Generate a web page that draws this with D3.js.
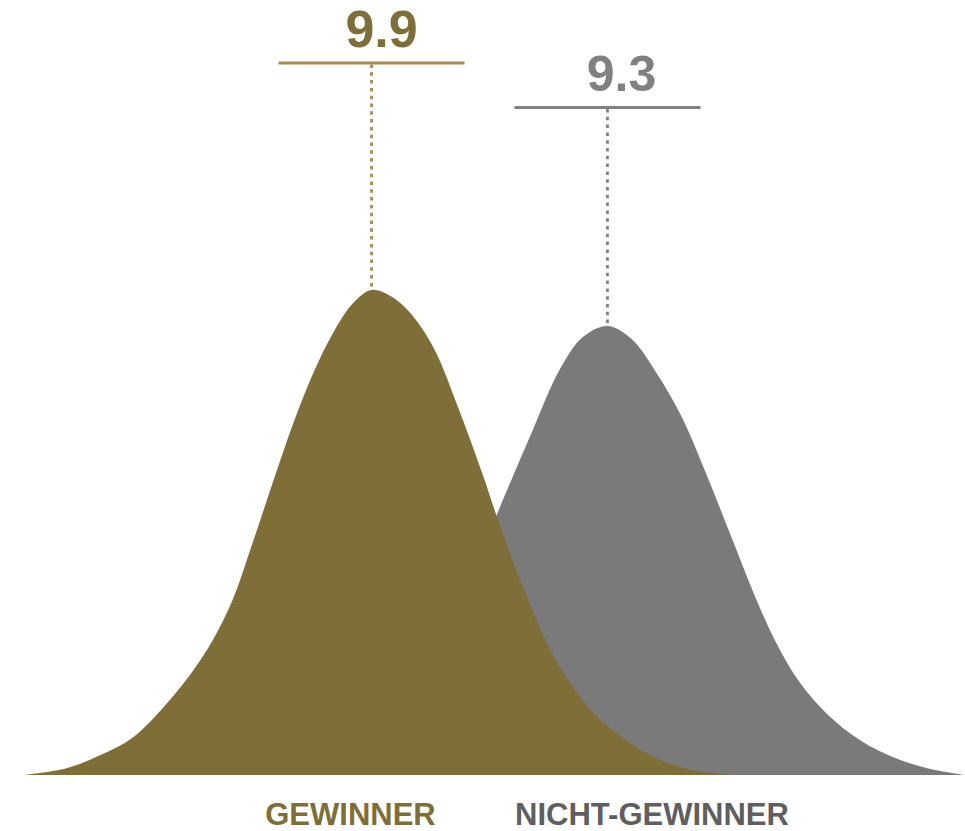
<!DOCTYPE html>
<html>
<head>
<meta charset="utf-8">
<script src="https://cdn.jsdelivr.net/npm/d3@7/dist/d3.min.js"></script>
<style>
  html, body { margin: 0; padding: 0; background: #ffffff; }
  svg { display: block; }
  text { font-family: "Liberation Sans", Arial, sans-serif; font-weight: bold; }
</style>
</head>
<body>
<svg id="chart" width="965" height="831"></svg>
<script>
// Groups and their mean scores
const groups = ["GEWINNER", "NICHT-GEWINNER"];
const meanValues = [9.9, 9.3];
const meanLabels = ["9.9", "9.3"];

// Distribution profiles: [position, relative density]
const winnerCurve = [
  [2.4, 0], [6.9, 1.4], [10.4, 4.1], [13.8, 7.8], [17.3, 14.8], [20.0, 21.5],
  [22.1, 28.0], [24.1, 36.1], [26.2, 48.0], [28.3, 60.5], [30.4, 72.6],
  [32.4, 82.6], [34.5, 91.1], [36.6, 97.3], [38.5, 100], [40.6, 98.6],
  [42.5, 95.3], [44.9, 88.2], [47.7, 74.6], [50.1, 61.5], [51.5, 53.2],
  [53.9, 40.2], [56.7, 27.0], [58.8, 19.8], [61.5, 12.8], [65.0, 7.0],
  [68.4, 3.1], [71.8, 1.0], [76.0, 0]
];
const nonWinnerCurve = [
  [26.0, 0], [29.9, 1.6], [33.5, 3.7], [36.9, 7.2], [40.3, 12.8], [43.1, 19.5],
  [45.5, 27.0], [48.0, 37.5], [50.6, 49.5], [52.6, 59.0],
  [55.2, 71.1], [58.0, 83.6], [60.4, 90.3], [62.95, 92.6], [65.4, 90.0],
  [68.0, 83.0], [70.6, 74.0], [73.2, 62.0], [75.8, 49.0], [78.2, 37.0],
  [80.5, 27.0], [82.9, 19.0], [85.7, 12.6], [89.1, 7.2], [92.5, 3.7],
  [96.1, 1.4], [100, 0]
];

const fills = ["#7e6e37", "#7a7a7a"];
const ruleColors = ["#a88a50", "#808080"];
const valueColors = ["#7e6e37", "#808080"];
const groupColors = ["#7e6e37", "#5f5f5f"];

const svg = d3.select("#chart");
const x = d3.scaleLinear().domain([0, 100]).range([0, 965]);
const y = d3.scaleLinear().domain([0, 100]).range([775, 290]);

const area = d3.area()
  .x(d => x(d[0]))
  .y0(y(0))
  .y1(d => y(d[1]))
  .curve(d3.curveCatmullRom.alpha(0.5));

const curves = [winnerCurve, nonWinnerCurve];

// Non-winners behind, winners in front
[1, 0].forEach(i => {
  svg.append("path")
    .datum(curves[i])
    .attr("d", area)
    .attr("fill", fills[i]);
});

// Mean markers: rule, dotted drop line to the peak, value label
const ruleY = [63, 107.5];
const labelDx = [10, 14];
const labelSize = [52, 50];
const labelBaseline = [47, 91];

curves.forEach((c, i) => {
  const peak = c.reduce((a, b) => (b[1] > a[1] ? b : a));
  const px = x(peak[0]);
  svg.append("line")
    .attr("x1", px).attr("x2", px)
    .attr("y1", ruleY[i] + 1.5).attr("y2", y(peak[1]))
    .attr("stroke", ruleColors[i])
    .attr("stroke-width", 2.8)
    .attr("stroke-dasharray", "3.5,4.3");
  svg.append("line")
    .attr("x1", px - 93).attr("x2", px + 93)
    .attr("y1", ruleY[i]).attr("y2", ruleY[i])
    .attr("stroke", ruleColors[i])
    .attr("stroke-width", 3);
  svg.append("text")
    .attr("x", px + labelDx[i])
    .attr("y", labelBaseline[i])
    .attr("text-anchor", "middle")
    .attr("font-size", labelSize[i])
    .attr("fill", valueColors[i])
    .text(meanLabels[i]);
});

// Group names under the baseline
const groupX = [350.5, 652];
groups.forEach((g, i) => {
  svg.append("text")
    .attr("x", groupX[i])
    .attr("y", 825)
    .attr("text-anchor", "middle")
    .attr("font-size", 31)
    .attr("fill", groupColors[i])
    .text(g);
});
</script>
</body>
</html>
